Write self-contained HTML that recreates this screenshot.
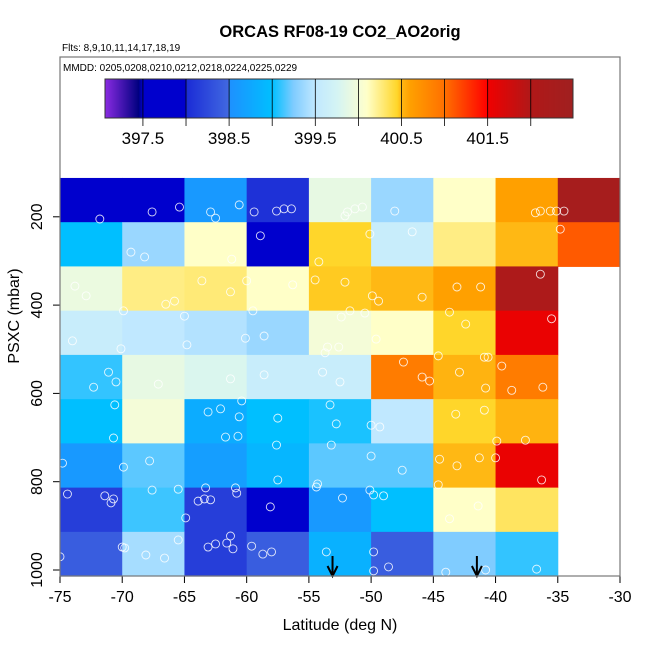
<!DOCTYPE html>
<html><head><meta charset="utf-8"><style>
html,body{margin:0;padding:0;background:#fff;width:650px;height:650px;overflow:hidden}
svg text{font-family:"Liberation Sans",sans-serif}
</style></head><body>
<svg id="chart" width="650" height="650" xmlns="http://www.w3.org/2000/svg">
<text x="340" y="37" text-anchor="middle" font-size="16.5" font-weight="bold">ORCAS RF08-19 CO2_AO2orig</text>
<text x="62" y="51" font-size="10">Flts: 8,9,10,11,14,17,18,19</text>
<g id="cells"></g>
<g id="cbar"></g>
<g id="pts"></g>
<g id="axes"></g>
<rect x="60" y="57" width="560" height="519" fill="none" stroke="#777" stroke-width="1.2"/>
<text x="63" y="71" font-size="10">MMDD: 0205,0208,0210,0212,0218,0224,0225,0229</text>
<text x="340" y="630" text-anchor="middle" font-size="16">Latitude (deg N)</text>
<text transform="translate(19,316) rotate(-90)" text-anchor="middle" font-size="16">PSXC (mbar)</text>
</svg>
<script>
const lonEdges=[-75,-70,-65,-60,-55,-50,-45,-40,-35,-30];
const presTop=112, presBin=100.2;
const row1=[397.75,397.75,398.6,398.05,399.9,399.35,400.1,400.6,402.3];
const row2=[399.0,399.35,400.1,398.0,400.45,399.6,400.25,400.5,401.1];
const row3=[399.93,400.25,400.28,400.1,400.47,400.5,400.6,402.1,null];
const row4=[399.6,399.5,399.45,399.35,400.0,400.1,400.45,401.55,null];
const row5=[399.1,399.9,399.8,399.6,399.6,400.9,400.52,400.9,null];
const row6=[399.0,400.0,398.8,399.0,399.05,399.5,400.45,400.52,null];
const row7=[398.6,399.18,398.65,398.9,399.18,399.18,400.5,401.55,null];
const row8=[398.15,399.12,398.15,397.75,398.6,399.0,400.1,400.33,null];
const row9=[398.4,399.4,398.15,398.4,398.85,398.4,399.25,399.1,null];
const rows=[row1,row2,row3,row4,row5,row6,row7,row8,row9];
const cbMin=397.06, cbMax=402.49;
const cbTicks=[397.5,398.5,399.5,400.5,401.5];
const xTicks=[-75,-70,-65,-60,-55,-50,-45,-40,-35,-30];
const yTicks=[200,400,600,800,1000];
const ptLon=[-71.8,-67.6,-65.4,-62.9,-62.5,-60.6,-59.4,-57.6,-57.0,-56.4,-51.9,-52.1,-51.3,-50.7,-48.1,-36.8,-36.4,-35.6,-35.1,-34.5,-34.8,
-58.9,-69.3,-68.2,-61.2,-50.1,-46.7,-54.2,-54.5,
-73.8,-72.9,-65.8,-63.6,-61.3,-69.9,-66.5,-65.0,-59.5,-56.3,-60.0,-52.1,-49.9,-50.5,-51.7,-52.4,-43.1,-45.9,-49.4,-41.2,-36.4,-35.5,-42.4,-43.7,
-74.0,-70.1,-64.8,-60.1,-58.6,-53.5,-53.7,-52.6,-49.6,-47.4,-44.6,-40.9,-40.6,-39.5,
-72.3,-71.1,-70.5,-67.1,-61.3,-58.6,-53.9,-52.5,-45.9,-45.3,-42.9,-40.8,-38.7,-36.2,
-70.6,-70.7,-63.1,-60.4,-60.6,-62.1,-60.7,-61.7,-57.5,-57.6,-53.3,-52.8,-53.2,-50.0,-49.3,-43.2,-40.9,-39.9,-37.6,
-74.8,-69.9,-67.8,-63.3,-60.9,-57.5,-54.3,-50.0,-50.1,-47.5,-44.5,-43.1,-41.3,-40.0,-36.3,
-74.4,-71.4,-70.9,-70.7,-67.6,-65.5,-63.9,-63.4,-62.9,-60.8,-58.1,-54.4,-52.3,-49.8,-49.0,-44.6,-41.4,-43.7,
-70.0,-69.8,-65.5,-68.1,-66.6,-64.9,-63.1,-62.5,-61.6,-61.1,-61.3,-59.6,-58.7,-58.0,-53.6,-49.8,-49.8,-48.6,-44.0,-40.8,-36.7,-75.0];
const ptPres=[205,189,178,189,203,173,189,187,182,182,189,198,182,178,187,191,187,187,187,187,228,
243,280,291,296,239,234,302,343,
357,379,391,345,370,413,398,425,413,354,345,348,379,418,413,427,359,382,391,359,330,431,443,416,
481,499,490,475,470,495,508,495,477,529,515,518,518,538,
586,552,574,579,567,558,552,574,563,572,552,588,593,586,
626,701,642,617,653,635,697,699,656,717,626,669,717,672,676,647,638,708,706,
758,767,753,814,814,796,805,742,819,774,749,764,746,746,796,
828,832,848,839,819,817,844,839,841,826,857,812,837,830,832,807,855,884,
948,950,932,966,973,882,948,941,939,952,923,946,964,959,959,959,1002,993,1005,1000,998,970];
const arrowLon=[-53.1,-41.5];

const stops=[[397.06,'#8a2be2'],[397.45,'#000080'],[397.5,'#0000cd'],[398.0,'#0000cd'],[398.0,'#1a2bd6'],[398.5,'#4169e1'],[398.5,'#1e90ff'],[399.0,'#00bfff'],[399.25,'#80ccff'],[399.5,'#c0e8ff'],[399.75,'#d4f4f4'],[400.0,'#f4fcd8'],[400.1,'#ffffc8'],[400.45,'#ffd62a'],[400.5,'#ffb814'],[400.6,'#ffa000'],[401.0,'#ff7000'],[401.5,'#ff0000'],[401.5,'#f00000'],[402.0,'#b01818'],[402.49,'#a02020']];
function hex(c){return [1,3,5].map(i=>parseInt(c.substr(i,2),16));}
function cmap(v){
  if(v<=stops[0][0])return stops[0][1];
  for(let i=0;i<stops.length-1;i++){const a=stops[i],b=stops[i+1];
    if(v>=a[0]&&v<=b[0]){const t=b[0]===a[0]?0:(v-a[0])/(b[0]-a[0]);const A=hex(a[1]),B=hex(b[1]);
      return 'rgb('+A.map((x,k)=>Math.round(x+(B[k]-x)*t)).join(',')+')';}}
  return stops[stops.length-1][1];
}
const X=lon=>60+(lon+75)*560/45;
const Y=p=>570-(1000-p)*0.4415;
const CB=v=>105+(v-cbMin)*(468/(cbMax-cbMin));
const NS='http://www.w3.org/2000/svg';
function mk(tag,attrs,parent){const e=document.createElementNS(NS,tag);for(const k in attrs)e.setAttribute(k,attrs[k]);parent.appendChild(e);return e;}
const cells=document.getElementById('cells');
rows.forEach((r,ri)=>r.forEach((v,ci)=>{if(v===null)return;
  const y0=Y(presTop+ri*presBin),y1=Y(presTop+(ri+1)*presBin);
  const e=mk('rect',{x:X(lonEdges[ci]),y:y0,width:X(lonEdges[ci+1])-X(lonEdges[ci])+0.5,height:y1-y0+0.5,fill:cmap(v)},cells);
  
  
}));
const cb=document.getElementById('cbar');
for(let px=0;px<468;px++){const v=cbMin+(px+0.5)*(cbMax-cbMin)/468;
  const e=mk('rect',{x:105+px,y:79,width:1.2,height:39,fill:cmap(v)},cb);
  
  }
mk('rect',{x:105,y:79,width:468,height:39,fill:'none',stroke:'#333','stroke-width':1},cb);
for(let v=397.5;v<cbMax;v+=0.5){const e=mk('line',{x1:CB(v),x2:CB(v),y1:79,y2:126,stroke:'#000','stroke-width':0.8},cb);
  
  }
cbTicks.forEach(v=>{const t=mk('text',{x:CB(v),y:144,'text-anchor':'middle','font-size':17},cb);t.textContent=v.toFixed(1);
  
  });
const pts=document.getElementById('pts');
ptLon.forEach((lon,i)=>{const c=mk('circle',{cx:X(lon),cy:Y(ptPres[i]),r:4,fill:'none',stroke:'#fff','stroke-width':0.9,opacity:0.85},pts);
  
  });
arrowLon.forEach(lon=>{const x=X(lon);
  const g=mk('g',{},pts);
  
  
  mk('line',{x1:x,x2:x,y1:556,y2:575,stroke:'#000','stroke-width':2},g);
  mk('path',{d:`M${x-5},566 L${x},576 L${x+5},566`,fill:'none',stroke:'#000','stroke-width':2},g);});
const ax=document.getElementById('axes');
mk('line',{x1:60,x2:620,y1:576,y2:576,stroke:'#000','stroke-width':1},ax);
xTicks.forEach(v=>{mk('line',{x1:X(v),x2:X(v),y1:576,y2:583,stroke:'#000'},ax);
  const t=mk('text',{x:X(v),y:602,'text-anchor':'middle','font-size':16},ax);t.textContent=v;
  
  });
yTicks.forEach(v=>{mk('line',{x1:53,x2:60,y1:Y(v),y2:Y(v),stroke:'#000'},ax);
  const t=mk('text',{transform:`translate(42,${Y(v)}) rotate(-90)`,'text-anchor':'middle','font-size':16},ax);t.textContent=v;
  
  });
</script>
</body></html>
